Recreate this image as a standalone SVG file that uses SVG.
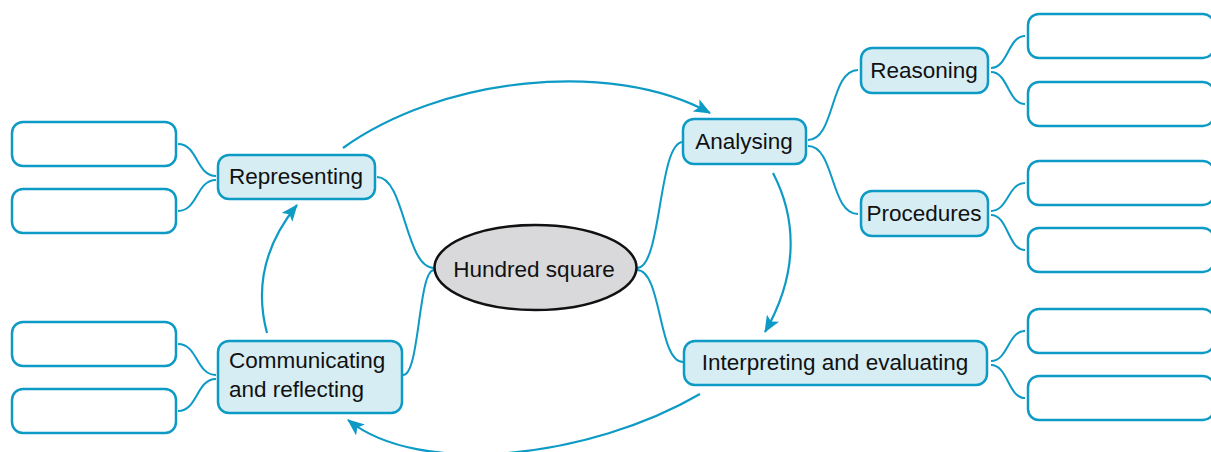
<svg xmlns="http://www.w3.org/2000/svg" width="1211" height="452" viewBox="0 0 1211 452">
<style>
.node{fill:#d6edf4;stroke:#0d9bc5;stroke-width:2.5}
.empty{fill:#ffffff;stroke:#0d9bc5;stroke-width:2.5}
.conn{fill:none;stroke:#0d9bc5;stroke-width:2}
.arr{fill:none;stroke:#0d9bc5;stroke-width:2.2;marker-end:url(#ah)}
text{font-family:"Liberation Sans",Arial,sans-serif;font-size:22.5px;fill:#111}
.c{text-anchor:middle}
</style>
<defs>
<marker id="ah" markerWidth="18" markerHeight="14" refX="16" refY="7" orient="auto" markerUnits="userSpaceOnUse">
<path d="M0,0 L17,7 L0,14 L4,7 Z" fill="#0d9bc5"/>
</marker>
</defs>
<g id="connectors">
<path class="conn" d="M637,268 C662,268 658,142 683,142"/>
<path class="conn" d="M637,270 C662,270 658,362 683,362"/>
<path class="conn" d="M434,268 C405,268 405,177 377,177"/>
<path class="conn" d="M434,270 C418,270 420,375 403,375"/>
<path class="conn" d="M216,176 C196,176 198,144 178,144"/>
<path class="conn" d="M216,180 C196,180 198,211 178,211"/>
<path class="conn" d="M216,375 C196,375 198,344 178,344"/>
<path class="conn" d="M216,379 C196,379 198,411 178,411"/>
<path class="conn" d="M808,140 C835,140 830,70 858,70"/>
<path class="conn" d="M808,146 C835,146 830,214 858,214"/>
<path class="conn" d="M991,68 C1008,68 1008,36 1025,36"/>
<path class="conn" d="M991,72 C1008,72 1008,104 1025,104"/>
<path class="conn" d="M991,211 C1008,211 1008,183 1025,183"/>
<path class="conn" d="M991,215 C1008,215 1008,250 1025,250"/>
<path class="conn" d="M991,361 C1008,361 1008,331 1025,331"/>
<path class="conn" d="M991,365 C1008,365 1008,398 1025,398"/>
<path class="arr" d="M343,148 C440,78 610,58 710,113"/>
<path class="arr" d="M773,173 C800,225 795,280 765,332"/>
<path class="arr" d="M700,394 C590,458 420,478 348,420"/>
<path class="arr" d="M267,333 C256,292 262,248 297,205"/>
</g>
<g id="hundred-square">
<ellipse cx="535.5" cy="267.5" rx="101" ry="42.5" fill="#d9d9db" stroke="#111" stroke-width="2.5"/>
<text class="c" x="534" y="277">Hundred square</text>
</g>
<g id="representing">
<rect class="node" x="218" y="155" width="157" height="44" rx="11"/>
<text class="c" x="296" y="184">Representing</text>
</g>
<g id="communicating">
<rect class="node" x="218" y="341" width="184" height="72" rx="11"/>
<text x="229" y="368">Communicating</text>
<text x="229" y="397">and reflecting</text>
</g>
<g id="analysing">
<rect class="node" x="683" y="119" width="123" height="45" rx="11"/>
<text class="c" x="744" y="149">Analysing</text>
</g>
<g id="reasoning">
<rect class="node" x="861" y="48" width="127" height="45" rx="11"/>
<text class="c" x="924" y="78">Reasoning</text>
</g>
<g id="procedures">
<rect class="node" x="861" y="191" width="127" height="45" rx="11"/>
<text class="c" x="924" y="221">Procedures</text>
</g>
<g id="interpreting">
<rect class="node" x="684" y="341" width="303" height="44" rx="11"/>
<text class="c" x="835" y="370">Interpreting and evaluating</text>
</g>
<g id="left-box-1"><rect class="empty" x="12" y="122" width="164" height="44" rx="11"/></g>
<g id="left-box-2"><rect class="empty" x="12" y="189" width="164" height="44" rx="11"/></g>
<g id="left-box-3"><rect class="empty" x="12" y="322" width="164" height="44" rx="11"/></g>
<g id="left-box-4"><rect class="empty" x="12" y="389" width="164" height="44" rx="11"/></g>
<g id="right-box-1"><rect class="empty" x="1028" y="14" width="186" height="44" rx="11"/></g>
<g id="right-box-2"><rect class="empty" x="1028" y="82" width="186" height="44" rx="11"/></g>
<g id="right-box-3"><rect class="empty" x="1028" y="161" width="186" height="44" rx="11"/></g>
<g id="right-box-4"><rect class="empty" x="1028" y="228" width="186" height="44" rx="11"/></g>
<g id="right-box-5"><rect class="empty" x="1028" y="309" width="186" height="44" rx="11"/></g>
<g id="right-box-6"><rect class="empty" x="1028" y="376" width="186" height="44" rx="11"/></g>
</svg>
